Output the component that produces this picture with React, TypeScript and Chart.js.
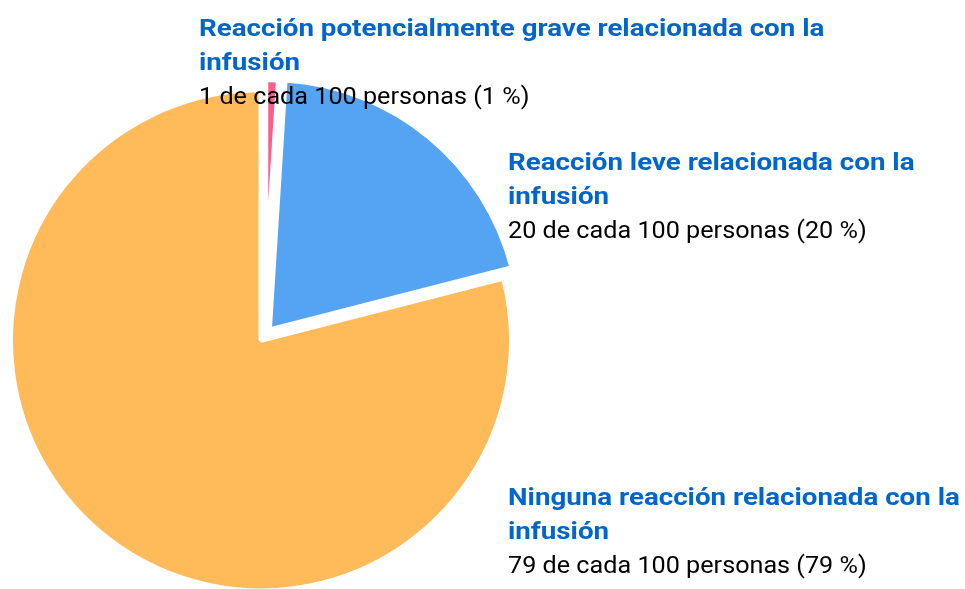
import React, { useEffect, useRef } from "react";
import { Chart, registerables } from "chart.js";

Chart.register(...registerables);

// ---- data ----
const categories = [
  "Reacción potencialmente grave relacionada con la infusión",
  "Reacción leve relacionada con la infusión",
  "Ninguna reacción relacionada con la infusión",
];
const values = [1, 20, 79];
const titleLines = [
  ["Reacción potencialmente grave relacionada con la", "infusión"],
  ["Reacción leve relacionada con la", "infusión"],
  ["Ninguna reacción relacionada con la", "infusión"],
];
const bodyTexts = [
  "1 de cada 100 personas (1 %)",
  "20 de cada 100 personas (20 %)",
  "79 de cada 100 personas (79 %)",
];

// ---- styles ----
const sliceColors = ["#FF5C8E", "#55A3F3", "#FFBA5A"];
const sliceBorders = [8, 5, 5];
const explodePx = [8, 8.4, 4.9];
const labelPos = [
  { left: 199, top: 12 },
  { left: 508, top: 146 },
  { left: 508, top: 481 },
];

const explodePlugin = {
  id: "explodeSlices",
  afterDatasetsUpdate(chart: any) {
    const meta = chart.getDatasetMeta(0);
    meta.data.forEach((arc: any, i: number) => {
      const mid = (arc.startAngle + arc.endAngle) / 2;
      const d = explodePx[i] || 0;
      arc.x += Math.cos(mid) * d;
      arc.y += Math.sin(mid) * d;
    });
  },
};

export default function App() {
  const canvasRef = useRef<HTMLCanvasElement | null>(null);

  useEffect(() => {
    if (!canvasRef.current) return;
    const chart = new Chart(canvasRef.current, {
      type: "pie",
      data: {
        labels: categories,
        datasets: [
          {
            data: values,
            backgroundColor: sliceColors,
            borderColor: "#ffffff",
            borderWidth: sliceBorders,
            clip: false as any,
          } as any,
        ],
      },
      options: {
        animation: false,
        responsive: true,
        maintainAspectRatio: false,
        radius: 250.5,
        rotation: 0,
        layout: { padding: { left: 0, right: 437, top: 84, bottom: 0 } },
        plugins: {
          legend: { display: false },
          tooltip: { enabled: false },
        },
        events: [],
      } as any,
      plugins: [explodePlugin],
    });
    return () => chart.destroy();
  }, []);

  return (
    <div
      style={{
        position: "fixed",
        left: 0,
        top: 0,
        width: 965,
        height: 589,
        overflow: "hidden",
        background: "#ffffff",
        fontFamily: "Roboto, 'Noto Sans', sans-serif",
      }}
    >
      <div style={{ position: "absolute", left: 0, top: 0, width: 965, height: 589 }}>
        <canvas ref={canvasRef} />
      </div>
      {labelPos.map((p, i) => (
        <div
          key={i}
          style={{
            position: "absolute",
            left: p.left,
            top: p.top,
            lineHeight: "34px",
            whiteSpace: "nowrap",
          }}
        >
          {titleLines[i].map((t, j) => (
            <div
              key={j}
              style={{
                fontSize: 23,
                fontWeight: 700,
                color: "#0066CC",
                transform: "scaleX(1.205)",
                transformOrigin: "0 0",
              }}
            >
              {t}
            </div>
          ))}
          <div
            style={{
              fontSize: 23,
              fontWeight: 400,
              color: "#000000",
              transform: "scaleX(1.095)",
              transformOrigin: "0 0",
            }}
          >
            {bodyTexts[i]}
          </div>
        </div>
      ))}
    </div>
  );
}
